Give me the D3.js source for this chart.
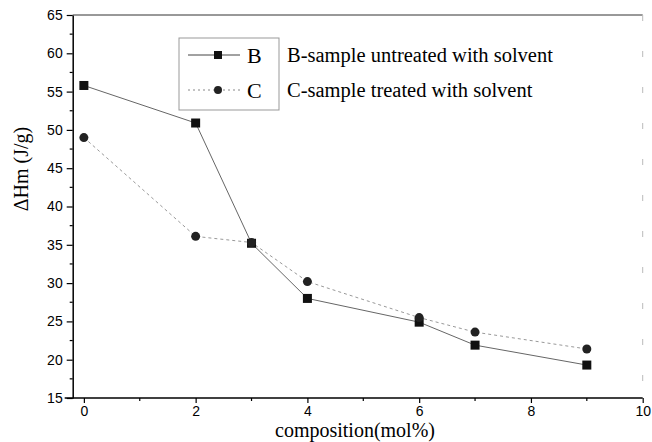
<!DOCTYPE html>
<html>
<head>
<meta charset="utf-8">
<script src="https://cdn.jsdelivr.net/npm/d3@7"></script>
<style>
  html, body { margin: 0; padding: 0; background: #fff; }
  svg { display: block; }
</style>
</head>
<body>
<svg id="chart" width="652" height="442"></svg>
<script>
// composition (mol%) and melting enthalpy ΔHm (J/g) for the two sample series
const composition = [0, 2, 3, 4, 6, 7, 9];
const seriesB = [55.8, 50.9, 35.2, 28.0, 24.9, 21.9, 19.3];
const seriesC = [49.0, 36.1, 35.3, 30.2, 25.5, 23.6, 21.4];
const xTicks = [0, 2, 4, 6, 8, 10];
const yTicks = [15, 20, 25, 30, 35, 40, 45, 50, 55, 60, 65];
const legendNames = ["B", "C"];
const legendTexts = ["B-sample untreated with solvent", "C-sample treated with solvent"];

const svg = d3.select("#chart");
const plotL = 72.7, plotR = 642.7, plotT = 15, plotB = 398;

const x = d3.scaleLinear().domain([-0.2, 10]).range([plotL, plotR]);
const y = d3.scaleLinear().domain([15, 65]).range([plotB, plotT]);

const sans = "'Liberation Sans', Arial, sans-serif";
const serif = "'Liberation Serif', 'Times New Roman', serif";

// frame: top and right edges
svg.append("line").attr("x1", plotL).attr("x2", plotR).attr("y1", plotT).attr("y2", plotT)
  .attr("stroke", "#333").attr("stroke-width", 1);
svg.append("line").attr("x1", plotR).attr("x2", plotR).attr("y1", plotT).attr("y2", plotB)
  .attr("stroke", "#bbb").attr("stroke-width", 1).attr("stroke-dasharray", "6,30");

// x axis with minor ticks at odd values
const xAxis = d3.axisBottom(x).tickValues(xTicks).tickSize(5).tickPadding(3).tickSizeOuter(0);
const gx = svg.append("g").attr("transform", `translate(0,${plotB})`).call(xAxis);
gx.select(".domain").attr("d", `M${plotL - 8},0H${plotR}`).attr("stroke", "#000").attr("stroke-width", 1.5);
gx.selectAll(".tick line").attr("stroke", "#000").attr("stroke-width", 1.2);
gx.selectAll(".tick text").attr("font-family", sans).attr("font-size", 14).attr("fill", "#000");
gx.selectAll(".minor").data([1, 3, 5, 7, 9]).enter().append("line")
  .attr("x1", d => x(d)).attr("x2", d => x(d)).attr("y1", 0).attr("y2", 3)
  .attr("stroke", "#000").attr("stroke-width", 1.2);

// y axis with minor ticks halfway between labels
const yAxis = d3.axisLeft(y).tickValues(yTicks).tickSize(6).tickPadding(4).tickSizeOuter(0);
const gy = svg.append("g").attr("transform", `translate(${plotL},0)`).call(yAxis);
gy.select(".domain").attr("stroke", "#000").attr("stroke-width", 1.5);
gy.selectAll(".tick line").attr("stroke", "#000").attr("stroke-width", 1.2);
gy.selectAll(".tick text").attr("font-family", sans).attr("font-size", 14).attr("fill", "#000");
gy.selectAll(".minor").data(d3.range(17.5, 65, 5)).enter().append("line")
  .attr("x1", 0).attr("x2", -3).attr("y1", d => y(d)).attr("y2", d => y(d))
  .attr("stroke", "#000").attr("stroke-width", 1.2);

// axis titles
svg.append("text").attr("x", 355).attr("y", 437.3).attr("text-anchor", "middle")
  .attr("font-family", serif).attr("font-size", 20).attr("fill", "#000")
  .text("composition(mol%)");
svg.append("text").attr("transform", "translate(28,169) rotate(-90)").attr("text-anchor", "middle")
  .attr("font-family", serif).attr("font-size", 20).attr("fill", "#000")
  .text("ΔHm (J/g)");

// series lines
const line = d3.line().x(d => x(d[0])).y(d => y(d[1]));
const dataB = composition.map((c, i) => [c, seriesB[i]]);
const dataC = composition.map((c, i) => [c, seriesC[i]]);

svg.append("path").datum(dataB).attr("d", line).attr("fill", "none")
  .attr("stroke", "#666").attr("stroke-width", 1);
svg.append("path").datum(dataC).attr("d", line).attr("fill", "none")
  .attr("stroke", "#999").attr("stroke-width", 1).attr("stroke-dasharray", "3,3");

// markers
const sq = 9;
svg.selectAll(".ptB").data(dataB).enter().append("rect")
  .attr("x", d => x(d[0]) - sq / 2).attr("y", d => y(d[1]) - sq / 2)
  .attr("width", sq).attr("height", sq).attr("fill", "#111");
svg.selectAll(".ptC").data(dataC).enter().append("circle")
  .attr("cx", d => x(d[0])).attr("cy", d => y(d[1])).attr("r", 4.5)
  .attr("fill", "#222");

// legend
const lg = svg.append("g");
lg.append("rect").attr("x", 179).attr("y", 38).attr("width", 100).attr("height", 72)
  .attr("fill", "#fff").attr("stroke", "#999").attr("stroke-width", 1);
const rows = [55, 90];
lg.append("line").attr("x1", 188).attr("x2", 240).attr("y1", rows[0]).attr("y2", rows[0])
  .attr("stroke", "#444").attr("stroke-width", 1);
lg.append("rect").attr("x", 218 - 4).attr("y", rows[0] - 4).attr("width", 8).attr("height", 8)
  .attr("fill", "#111");
lg.append("line").attr("x1", 188).attr("x2", 240).attr("y1", rows[1]).attr("y2", rows[1])
  .attr("stroke", "#888").attr("stroke-width", 1).attr("stroke-dasharray", "2,3");
lg.append("circle").attr("cx", 218).attr("cy", rows[1]).attr("r", 4).attr("fill", "#222");
lg.selectAll(".lname").data(legendNames).enter().append("text")
  .attr("x", 247).attr("y", (d, i) => rows[i] + 8)
  .attr("font-family", serif).attr("font-size", 22).attr("fill", "#000").text(d => d);
svg.selectAll(".ldesc").data(legendTexts).enter().append("text")
  .attr("x", 287).attr("y", (d, i) => rows[i] + 7)
  .attr("font-family", serif).attr("font-size", 20.5).attr("fill", "#000").text(d => d);
</script>
</body>
</html>
